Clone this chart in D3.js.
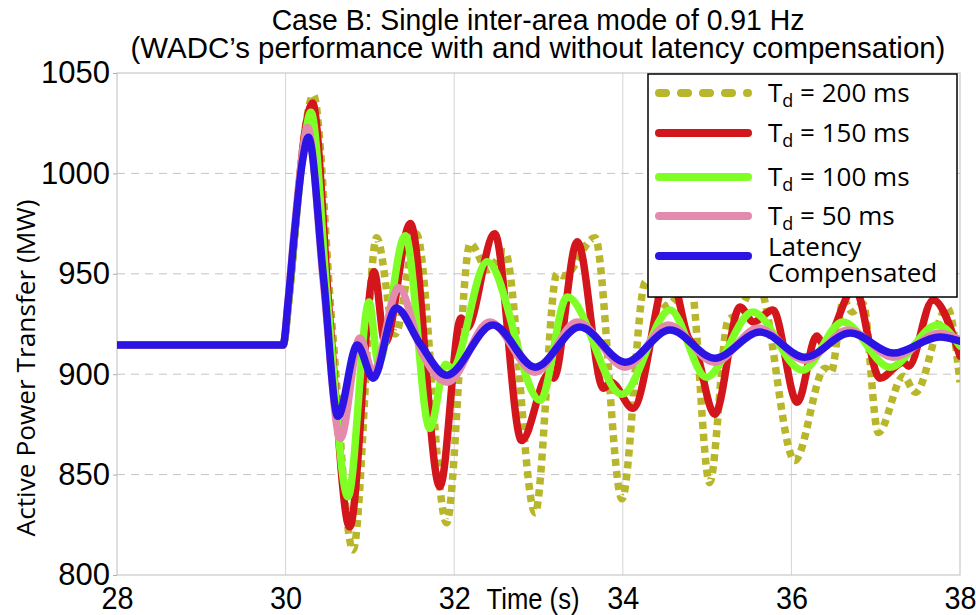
<!DOCTYPE html>
<html>
<head>
<meta charset="utf-8">
<script src="https://cdn.jsdelivr.net/npm/d3@7"></script>
<style>
  body { margin: 0; background: #fff; }
</style>
</head>
<body>
<svg id="chart" width="976" height="615"></svg>
<script>
// ---- data (time in s, power in MW) ----
const xTicks = [28, 30, 32, 34, 36, 38]
const yTicks = [800, 850, 900, 950, 1000, 1050]

const td200 = [[28,914.5],[29.97,914.5],[30.04,938],[30.12,975],[30.22,1018],[30.33,1039],[30.55,925],[30.80,812.5],
  [31.08,968],[31.30,920],[31.55,970],[31.91,826],[32.19,965],[32.40,952],[32.60,961],[32.96,831],[33.22,950],[33.30,949],
  [33.67,968],[33.99,838],[34.27,946],[34.52,934],[34.80,946],[35.03,846],[35.25,927],[35.33,929],[35.60,945],[36.04,857],
  [36.40,903],[36.47,901],[36.62,937],[36.72,931],[36.85,935],[37.03,871],[37.33,899],[37.47,891],[37.85,933],[38,896]]

const td150 = [[28,914.5],[29.97,914.5],[30.04,938],[30.12,975],[30.22,1018],[30.32,1035],[30.52,930],[30.76,824],
  [31.05,951],[31.18,915.5],[31.48,975],[31.83,844],[32.08,928],[32.15,923],[32.48,970],[32.80,867],[33.12,900],[33.18,898],
  [33.46,966],[33.77,893],[33.86,896],[34.12,883],[34.55,952],[34.78,918],[34.85,914],[35.09,880],[35.39,933.5],[35.55,926],
  [35.78,932],[36.07,886],[36.30,919],[36.38,915],[36.75,943],[37.05,898],[37.33,906],[37.39,904],[37.68,937],[38,909]]

const td100 = [[28,914.5],[29.97,914.5],[30.04,938],[30.12,975],[30.22,1015],[30.30,1030.5],[30.50,935],[30.74,839],
  [30.99,936],[31.10,905.5],[31.42,969],[31.71,873],[31.90,905],[31.97,903],[32.39,956],[33.02,887],[33.34,938.5],[33.99,890],
  [34.56,932],[34.99,898.5],[35.54,931],[36.13,902],[36.61,926],[37.17,903.5],[37.73,924.5],[38,914]]

const td50 = [[28,914.5],[29.97,914.5],[30.03,937],[30.10,970],[30.20,1010],[30.26,1023],[30.45,945],[30.65,868],
  [30.88,918],[31.04,901],[31.34,943],[31.62,910.5],[31.92,896],[32.42,926],[32.96,901],[33.46,926],[34.03,903.5],
  [34.54,924.5],[35.09,906],[35.61,923],[36.16,907],[36.68,922],[37.21,908.5],[37.76,920.5],[38,917]]

const compensated = [[28,914.5],[29.97,914.5],[30.03,936],[30.10,968],[30.20,1006],[30.27,1018],[30.45,948],[30.62,879],
  [30.85,914.5],[31.04,898],[31.31,933],[31.59,915.5],[31.91,899.5],[32.46,924.5],[32.96,903.5],[33.49,923.5],[34.03,906],
  [34.56,922],[35.09,908],[35.63,921],[36.16,908.5],[36.70,920.5],[37.21,910.5],[37.76,918.5],[38,916.5]]

const seriesNames = ["200 ms", "150 ms", "100 ms", "50 ms", "Latency Compensated"]

// ---- drawing ----
const svg = d3.select("#chart")
const m = {left: 117, right: 960, top: 73, bottom: 575}

const x = d3.scaleLinear().domain([28, 38]).range([m.left, m.right])
const y = d3.scaleLinear().domain([800, 1050]).range([m.bottom, m.top])

const series = [
  {name: seriesNames[0], data: td200, color: "#b8b62a", dash: "7,5", legendDash: "7,15", cap: "butt"},
  {name: seriesNames[1], data: td150, color: "#d2161b"},
  {name: seriesNames[2], data: td100, color: "#80ff26"},
  {name: seriesNames[3], data: td50, color: "#e48aac"},
  {name: seriesNames[4], data: compensated, color: "#2b14e4"}
]

// grid
svg.append("g").selectAll("line")
  .data(xTicks.slice(1, -1))
  .enter().append("line")
  .attr("x1", d => x(d)).attr("x2", d => x(d))
  .attr("y1", m.top).attr("y2", m.bottom)
  .attr("stroke", "#d4d4d4").attr("stroke-width", 1)

svg.append("g").selectAll("line")
  .data(yTicks.slice(1, -1))
  .enter().append("line")
  .attr("x1", m.left).attr("x2", m.right)
  .attr("y1", d => y(d)).attr("y2", d => y(d))
  .attr("stroke", "#c4c4c4").attr("stroke-width", 1)
  .attr("stroke-dasharray", "8,6")

// box
svg.append("rect")
  .attr("x", m.left).attr("y", m.top)
  .attr("width", m.right - m.left).attr("height", m.bottom - m.top)
  .attr("fill", "none").attr("stroke", "#c8c8c8").attr("stroke-width", 1.2)

// axes (labels only)
const yAxis = svg.append("g")
  .attr("transform", `translate(${m.left},0)`)
  .call(d3.axisLeft(y).tickValues(yTicks).tickSize(4).tickPadding(3).tickFormat(d3.format("d")))
yAxis.select(".domain").remove()
yAxis.selectAll("line").attr("stroke", "#b0b0b0")
yAxis.selectAll("text")
  .attr("font-family", "'Liberation Sans', Arial, sans-serif")
  .attr("font-size", 31).attr("fill", "#000")

// the source uses a condensed face; squeeze regular Liberation Sans sideways
const xAxis = svg.append("g")
  .attr("transform", `translate(0,${m.bottom})`)
  .call(d3.axisBottom(x).tickValues(xTicks).tickSize(0).tickPadding(0).tickFormat(d3.format("d")))
xAxis.select(".domain").remove()
xAxis.selectAll("text")
  .attr("font-family", "'Liberation Sans', Arial, sans-serif")
  .attr("font-size", 32).attr("fill", "#000")
  .attr("dy", null).attr("y", 0)
  .attr("transform", "translate(0,34) scale(0.9,1)")

// place text at (cx, cy) and stretch it horizontally to width w
function squeeze(sel, cx, cy, w) {
  const len = sel.node().getComputedTextLength()
  sel.attr("transform", `translate(${cx},${cy}) scale(${w / len},1)`)
}

const xLabel = svg.append("text")
  .attr("text-anchor", "middle")
  .attr("font-family", "'Liberation Sans', Arial, sans-serif")
  .attr("font-size", 29)
  .text("Time (s)")
squeeze(xLabel, 533, 609, 93)

const yLabel = svg.append("text")
  .attr("transform", "translate(35,368) rotate(-90)")
  .attr("text-anchor", "middle")
  .attr("font-family", "'Open Sans', sans-serif")
  .attr("font-size", 25)
  .text("Active Power Transfer (MW)")
yLabel.attr("font-size", 25 * 337 / yLabel.node().getComputedTextLength())

const t1 = svg.append("text")
  .attr("text-anchor", "middle")
  .attr("font-family", "'Liberation Sans', Arial, sans-serif")
  .attr("font-size", 29)
  .text("Case B: Single inter-area mode of 0.91 Hz")
squeeze(t1, 538, 30, 533)

const t2 = svg.append("text")
  .attr("text-anchor", "middle")
  .attr("font-family", "'Liberation Sans', Arial, sans-serif")
  .attr("font-size", 29)
  .text("(WADC\u2019s performance with and without latency compensation)")
squeeze(t2, 538, 58, 815)

// curves
svg.append("clipPath").attr("id", "plot-clip")
  .append("rect").attr("x", m.left).attr("y", m.top - 10)
  .attr("width", m.right - m.left).attr("height", m.bottom - m.top + 10)

const line = d3.line()
  .x(d => x(d[0]))
  .y(d => y(d[1]))
  .curve(d3.curveMonotoneX)

svg.append("g").attr("clip-path", "url(#plot-clip)")
  .selectAll("path")
  .data(series)
  .enter().append("path")
  .attr("d", d => line(d.data))
  .attr("fill", "none")
  .attr("stroke", d => d.color)
  .attr("stroke-width", 7.5)
  .attr("stroke-linejoin", "round")
  .attr("stroke-linecap", d => d.cap || "round")
  .attr("stroke-dasharray", d => d.dash || null)

// legend
const legend = svg.append("g")
legend.append("rect")
  .attr("x", 648).attr("y", 74).attr("width", 309).attr("height", 223)
  .attr("fill", "#fff").attr("stroke", "#000").attr("stroke-width", 1.5)

const rowY = [93, 133, 177, 216, 256]
const items = legend.selectAll("g.item")
  .data(series)
  .enter().append("g").attr("class", "item")
  .attr("transform", (d, i) => `translate(0,${rowY[i]})`)

items.append("line")
  .attr("x1", 659).attr("x2", 748)
  .attr("stroke", d => d.color)
  .attr("stroke-width", 8)
  .attr("stroke-linecap", "round")
  .attr("stroke-dasharray", d => d.legendDash || null)

items.each(function(d, i) {
  const g = d3.select(this)
  const txt = g.append("text")
    .attr("x", 768)
    .attr("font-family", "'Open Sans', sans-serif")
    .attr("font-size", 26)
  if (i < 4) {
    txt.attr("y", 9)
    txt.append("tspan").text("T")
    txt.append("tspan").attr("font-size", 18).attr("dy", 5).text("d")
    txt.append("tspan").attr("dy", -5).text(" = " + d.name)
  } else {
    txt.append("tspan").attr("x", 768).attr("y", 0).text("Latency")
    txt.append("tspan").attr("x", 768).attr("y", 26).text("Compensated")
  }
})
</script>
</body>
</html>
